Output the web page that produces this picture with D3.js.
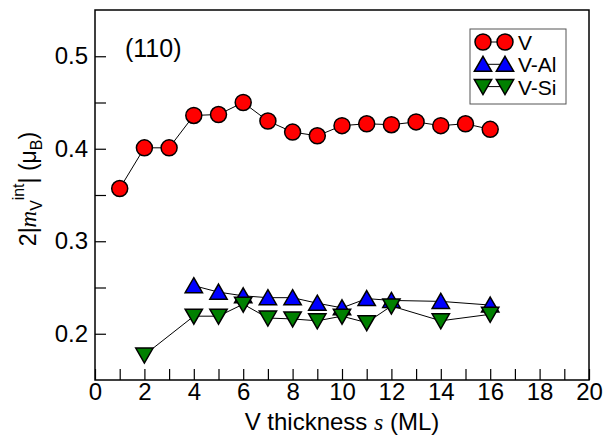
<!DOCTYPE html>
<html>
<head>
<meta charset="utf-8">
<script src="https://cdn.jsdelivr.net/npm/d3@7"></script>
<style>
  body { margin: 0; background: #fff; }
  text { font-family: "Liberation Sans", Arial, sans-serif; }
</style>
</head>
<body>
<div id="container"></div>
<script>
// V thickness (ML) and the interface moment 2|m_V^int| (mu_B)
var thickV = [1, 2, 3, 4, 5, 6, 7, 8, 9, 10, 11, 12, 13, 14, 15, 16];
var magV   = [0.357, 0.401, 0.401, 0.436, 0.437, 0.450, 0.430, 0.418, 0.414, 0.425, 0.427, 0.426, 0.429, 0.425, 0.427, 0.421];

var thickAl = [4, 5, 6, 7, 8, 9, 10, 11, 12, 14, 16];
var magAl   = [0.252, 0.245, 0.241, 0.239, 0.239, 0.233, 0.228, 0.238, 0.236, 0.235, 0.231];

var thickSi = [2, 4, 5, 6, 7, 8, 9, 10, 11, 12, 14, 16];
var magSi   = [0.177, 0.219, 0.219, 0.232, 0.217, 0.216, 0.214, 0.219, 0.212, 0.230, 0.214, 0.221];

var xTicks = d3.range(0, 21, 1);
var yTicks = [0.2, 0.25, 0.3, 0.35, 0.4, 0.45, 0.5];
var legendNames = ["V", "V-Al", "V-Si"];

var width = 603, height = 438;
var plotLeft = 95, plotRight = 589, plotTop = 10, plotBottom = 380;
var tickLen = 11;

var x = d3.scaleLinear().domain([0, 20]).range([plotLeft, plotRight]);
var y = d3.scaleLinear().domain([0.15, 0.55]).range([plotBottom, plotTop]);

var svg = d3.select("#container").append("svg")
    .attr("width", width)
    .attr("height", height);

// axes, ticks point inwards
var xAxis = d3.axisBottom(x)
    .tickValues(xTicks)
    .tickSizeInner(-tickLen)
    .tickSizeOuter(0)
    .tickPadding(3)
    .tickFormat(function(d) { return d % 2 == 0 ? d : ""; });

var yAxis = d3.axisLeft(y)
    .tickValues(yTicks)
    .tickSizeInner(-tickLen)
    .tickSizeOuter(0)
    .tickPadding(7)
    .tickFormat(function(d) { return Math.round(d * 100) % 10 == 0 ? d3.format(".1f")(d) : ""; });

var gx = svg.append("g").attr("transform", "translate(0," + plotBottom + ")").call(xAxis);
var gy = svg.append("g").attr("transform", "translate(" + plotLeft + ",0)").call(yAxis);

[gx, gy].forEach(function(g) {
  g.select(".domain").remove();
  g.selectAll(".tick line").attr("stroke", "#000").attr("stroke-width", 1.2);
  g.selectAll(".tick text")
    .attr("fill", "#000")
    .style("font-family", "'Liberation Sans', Arial, sans-serif")
    .style("font-size", "24px");
});

// frame
svg.append("rect")
    .attr("x", plotLeft).attr("y", plotTop)
    .attr("width", plotRight - plotLeft).attr("height", plotBottom - plotTop)
    .attr("fill", "none")
    .attr("stroke", "#000")
    .attr("stroke-width", 1.5);

var line = d3.line()
    .x(function(d) { return x(d[0]); })
    .y(function(d) { return y(d[1]); });

var tri = d3.symbol().type(d3.symbolTriangle).size(130);

function drawSeries(xs, ys, kind, fill) {
  var pts = d3.zip(xs, ys);
  svg.append("path")
      .datum(pts)
      .attr("d", line)
      .attr("fill", "none")
      .attr("stroke", "#000")
      .attr("stroke-width", 1);
  var g = svg.append("g");
  pts.forEach(function(p) {
    drawMarker(g, x(p[0]), y(p[1]), kind, fill);
  });
}

function drawMarker(g, cx, cy, kind, fill) {
  if (kind == "circle") {
    g.append("circle")
      .attr("cx", cx).attr("cy", cy).attr("r", 8)
      .attr("fill", fill).attr("stroke", "#000").attr("stroke-width", 1.5);
  } else {
    var rot = kind == "down" ? 180 : 0;
    g.append("path")
      .attr("d", tri)
      .attr("transform", "translate(" + cx + "," + (cy + (kind == "down" ? -2 : 2)) + ") rotate(" + rot + ")")
      .attr("fill", fill).attr("stroke", "#000").attr("stroke-width", 1.5);
  }
}

drawSeries(thickV, magV, "circle", "#ff0000");
drawSeries(thickAl, magAl, "up", "#0000ff");
drawSeries(thickSi, magSi, "down", "#008000");

// panel label
svg.append("text")
    .attr("x", 125).attr("y", 57)
    .style("font-size", "25px")
    .text("(110)");

// legend
var legend = svg.append("g");
legend.append("rect")
    .attr("x", 470).attr("y", 29)
    .attr("width", 96).attr("height", 75)
    .attr("fill", "#fff")
    .attr("stroke", "#555")
    .attr("stroke-width", 1);

var legendKinds = [["circle", "#ff0000"], ["up", "#0000ff"], ["down", "#008000"]];
legendNames.forEach(function(name, i) {
  var ly = 42 + i * 22.3;
  legend.append("line")
    .attr("x1", 483).attr("x2", 505).attr("y1", ly).attr("y2", ly)
    .attr("stroke", "#000").attr("stroke-width", 1);
  drawMarker(legend, 483, ly, legendKinds[i][0], legendKinds[i][1]);
  drawMarker(legend, 505, ly, legendKinds[i][0], legendKinds[i][1]);
  legend.append("text")
    .attr("x", 518).attr("y", ly + 8)
    .style("font-size", "21px")
    .text(name);
});

// x title
var xt = svg.append("text")
    .attr("x", 342)
    .attr("y", 430)
    .attr("text-anchor", "middle")
    .style("font-size", "24px");
xt.append("tspan").text("V thickness ");
xt.append("tspan").style("font-family", "'Liberation Serif', 'Times New Roman', serif").style("font-style", "italic").text("s");
xt.append("tspan").text(" (ML)");

// y title
var yt = svg.append("text")
    .attr("transform", "translate(36,189) rotate(-90)")
    .attr("text-anchor", "middle")
    .style("font-size", "23px");
yt.append("tspan").text("2|");
yt.append("tspan").style("font-family", "'Liberation Serif', 'Times New Roman', serif").style("font-style", "italic").text("m");
yt.append("tspan").attr("dy", 6).style("font-size", "16px").text("V");
yt.append("tspan").attr("dy", -18).style("font-size", "16px").text("int");
yt.append("tspan").attr("dy", 12).text("| (\u03bc");
yt.append("tspan").attr("dy", 6).style("font-size", "16px").text("B");
yt.append("tspan").attr("dy", -6).text(")");
</script>
</body>
</html>
